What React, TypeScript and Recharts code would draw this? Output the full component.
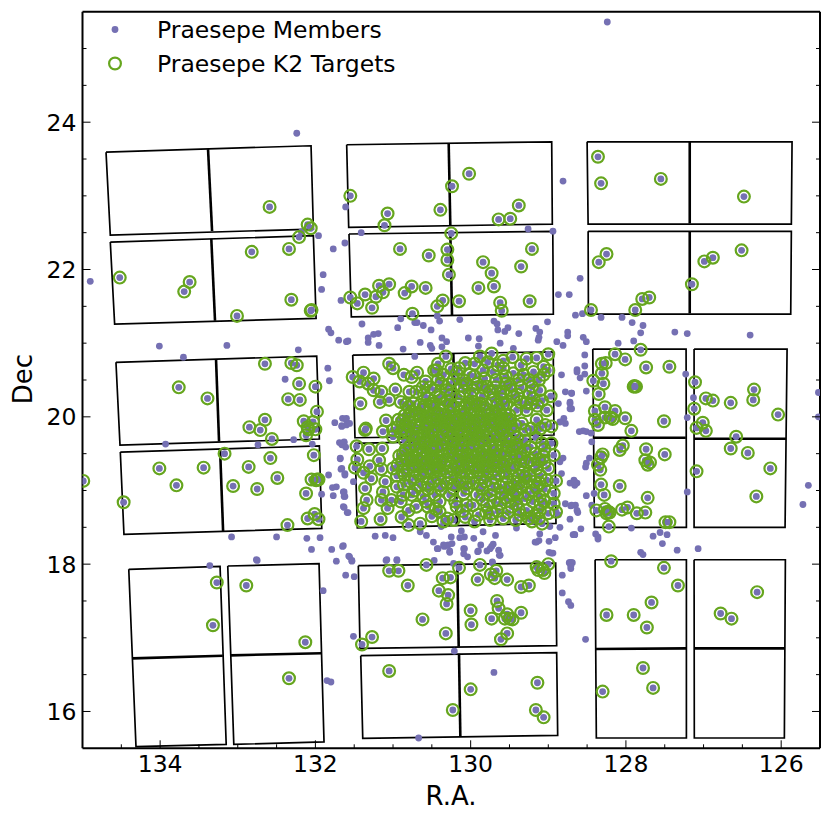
import { ScatterChart, Scatter, XAxis, YAxis, Legend } from 'recharts';

type Pair = [number, number];

const raMajor = [134, 132, 130, 128, 126];
const decMajor = [24, 22, 20, 18, 16];
const raTicks = [134.5, 134, 133.5, 133, 132.5, 132, 131.5, 131, 130.5, 130, 129.5, 129, 128.5, 128, 127.5, 127, 126.5, 126];
const decTicks = [25, 24.5, 24, 23.5, 23, 22.5, 22, 21.5, 21, 20.5, 20, 19.5, 19, 18.5, 18, 17.5, 17, 16.5, 16];

// K2 module outlines, four corners in R.A. / Dec
const fovOutlines: Pair[][] = [
  [[134.697, 23.594], [132.056, 23.68], [132.026, 22.549], [134.642, 22.468]],
  [[134.642, 22.373], [132.026, 22.459], [131.991, 21.337], [134.586, 21.259]],
  [[131.597, 23.694], [128.956, 23.734], [128.948, 22.617], [131.571, 22.573]],
  [[131.567, 22.482], [128.942, 22.519], [128.935, 21.395], [131.537, 21.358]],
  [[128.5, 23.734], [125.86, 23.734], [125.869, 22.617], [128.487, 22.617]],
  [[128.487, 22.519], [125.869, 22.519], [125.877, 21.395], [128.483, 21.395]],
  [[134.569, 20.74], [131.983, 20.825], [131.949, 19.699], [134.517, 19.617]],
  [[134.513, 19.522], [131.949, 19.604], [131.918, 18.486], [134.466, 18.405]],
  [[131.519, 20.839], [128.936, 20.883], [128.927, 19.753], [131.49, 19.716]],
  [[131.49, 19.64], [128.914, 19.7], [128.901, 18.554], [131.46, 18.494]],
  [[128.427, 20.92], [127.225, 20.92], [127.221, 18.499], [128.406, 18.499]],
  [[127.122, 20.92], [125.924, 20.92], [125.95, 18.499], [127.122, 18.499]],
  [[134.404, 17.93], [133.228, 17.97], [133.149, 15.554], [134.311, 15.522]],
  [[133.129, 17.975], [131.953, 18.006], [131.889, 15.586], [133.051, 15.554]],
  [[131.447, 17.98], [128.905, 18.015], [128.892, 16.893], [131.425, 16.857]],
  [[131.416, 16.757], [128.892, 16.798], [128.879, 15.676], [131.39, 15.636]],
  [[128.397, 18.06], [127.221, 18.06], [127.221, 15.64], [128.381, 15.64]],
  [[127.122, 18.06], [125.946, 18.06], [125.959, 15.64], [127.119, 15.64]],
];

// the line between the two CCDs of each module
const fovDividers: Pair[][] = [
  [[133.383, 23.635], [133.331, 22.522]],
  [[133.341, 22.418], [133.293, 21.305]],
  [[130.283, 23.712], [130.262, 22.6]],
  [[130.262, 22.505], [130.24, 21.381]],
  [[127.178, 23.734], [127.178, 22.626]],
  [[127.178, 22.519], [127.178, 21.404]],
  [[133.28, 20.78], [133.241, 19.667]],
  [[133.228, 19.567], [133.189, 18.449]],
  [[130.223, 20.861], [130.198, 19.73]],
  [[130.189, 19.65], [130.18, 18.53]],
  [[128.419, 19.716], [127.229, 19.716]],
  [[127.122, 19.703], [125.937, 19.703]],
  [[134.354, 16.721], [133.193, 16.757]],
  [[133.091, 16.762], [131.927, 16.79]],
  [[130.172, 18.002], [130.154, 16.879]],
  [[130.15, 16.784], [130.133, 15.663]],
  [[128.388, 16.848], [127.221, 16.857]],
  [[127.119, 16.857], [125.959, 16.857]],
];

const outerTargets: Pair[] = [
  [132.59, 22.85], [132.10, 22.61], [132.06, 22.56], [132.21, 22.44], [132.34, 22.28], [132.82, 22.24], [134.52, 21.89],
  [133.62, 21.83], [133.69, 21.70], [132.31, 21.59], [132.05, 21.45], [132.06, 21.44], [133.01, 21.37], [131.55, 23.00],
  [131.07, 22.76], [131.11, 22.60], [130.91, 22.28], [131.55, 21.62], [131.46, 21.54], [131.36, 21.66], [131.27, 21.48],
  [131.22, 21.63], [131.18, 21.78], [131.13, 21.69], [131.05, 21.80], [130.85, 21.68], [130.76, 21.77], [130.75, 21.40],
  [130.02, 23.30], [130.24, 23.13], [130.39, 22.81], [129.38, 22.87], [129.64, 22.68], [129.49, 22.69], [130.25, 22.49],
  [130.30, 22.27], [130.30, 22.13], [130.54, 22.19], [130.28, 21.93], [129.21, 22.28], [129.35, 22.04], [129.84, 22.10],
  [129.73, 21.95], [129.70, 21.77], [129.90, 21.75], [129.62, 21.55], [129.60, 21.44], [129.24, 21.57], [130.58, 21.75],
  [130.36, 21.58], [130.43, 21.50], [130.15, 21.57], [128.36, 23.53], [128.32, 23.17], [127.55, 23.23], [126.48, 22.99],
  [128.35, 22.10], [128.25, 22.21], [126.51, 22.26], [126.88, 22.16], [126.99, 22.11], [127.15, 21.80], [127.70, 21.62],
  [127.79, 21.60], [127.88, 21.45], [128.45, 21.45],
  [132.65, 20.72], [132.31, 20.73], [132.24, 20.70], [132.21, 20.45], [132.00, 20.41], [132.35, 20.24], [132.20, 20.23],
  [131.98, 20.07], [133.76, 20.40], [133.39, 20.25], [132.65, 19.96], [132.85, 19.86], [132.71, 19.82], [132.56, 19.70],
  [132.15, 19.94], [132.03, 19.93], [132.10, 19.86], [132.00, 19.83], [132.09, 19.83], [132.12, 19.75], [132.02, 19.48],
  [133.17, 19.50], [132.58, 19.44], [132.86, 19.32], [132.49, 19.17], [133.06, 19.06], [132.75, 19.02], [132.05, 19.15],
  [131.98, 19.15], [131.96, 19.15], [131.99, 19.14], [132.12, 18.96], [132.01, 18.68], [132.10, 18.62], [131.96, 18.61],
  [132.36, 18.53], [134.01, 19.30], [133.44, 19.31], [133.79, 19.07], [134.47, 18.84], [134.99, 19.13],
  [128.14, 20.85], [127.81, 20.91], [128.01, 20.78], [128.26, 20.73], [128.31, 20.72], [127.74, 20.67], [127.44, 20.68],
  [128.31, 20.59], [128.42, 20.49], [128.29, 20.45], [128.35, 20.31], [127.89, 20.42], [127.90, 20.41], [127.87, 20.41],
  [127.11, 20.47], [126.35, 20.37], [126.36, 20.23], [126.97, 20.25], [126.88, 20.22], [126.65, 20.19], [126.04, 20.03],
  [127.12, 20.11], [128.27, 20.13], [128.40, 20.08], [128.14, 20.08], [128.01, 19.98], [128.20, 19.99], [128.17, 19.97],
  [128.27, 19.99], [128.40, 19.96], [128.36, 19.89], [127.51, 19.94], [127.93, 19.81], [127.01, 19.92], [127.09, 19.85],
  [126.97, 19.81], [126.58, 19.73], [126.65, 19.57], [126.43, 19.51], [126.14, 19.30], [126.32, 18.92], [127.09, 19.26],
  [128.04, 19.61], [128.08, 19.55], [127.74, 19.56], [127.50, 19.49], [127.75, 19.41], [127.69, 19.38], [127.72, 19.35],
  [128.30, 19.49], [128.32, 19.45], [128.36, 19.35], [128.33, 19.28], [128.32, 19.08], [128.08, 19.06], [128.28, 18.94],
  [127.72, 18.90], [128.38, 18.73], [128.27, 18.75], [128.23, 18.71], [128.25, 18.69], [128.21, 18.70], [128.05, 18.74],
  [127.98, 18.77], [127.86, 18.69], [127.75, 18.70], [128.22, 18.51], [127.49, 18.57], [127.44, 18.57],
  [133.27, 17.75], [133.32, 17.17], [132.89, 17.71], [132.13, 16.94], [132.34, 16.45], [131.05, 17.91], [130.93, 17.91],
  [130.57, 17.99], [130.81, 17.71], [130.36, 17.81], [130.26, 17.82], [130.41, 17.64], [130.29, 17.58], [130.31, 17.46],
  [130.62, 17.25], [130.32, 17.06], [131.27, 17.01], [131.40, 16.91], [131.05, 16.55], [130.23, 16.02], [130.15, 17.95],
  [129.88, 17.99], [129.91, 17.79], [129.74, 17.86], [129.67, 17.91], [129.69, 17.81], [129.53, 17.79], [129.35, 17.69],
  [129.25, 17.71], [129.15, 17.96], [129.13, 17.92], [129.05, 17.88], [129.00, 18.00], [129.07, 17.92], [130.00, 17.37],
  [129.99, 17.18], [129.73, 17.26], [129.66, 17.50], [129.64, 17.40], [129.53, 17.32], [129.35, 17.34], [129.56, 17.26],
  [129.50, 17.26], [129.46, 17.25], [129.53, 17.06], [129.61, 16.98], [130.00, 16.30], [129.14, 16.39], [129.16, 16.02],
  [129.06, 15.92], [128.19, 18.04], [127.51, 17.95], [127.33, 17.71], [127.67, 17.48], [128.25, 17.31], [127.90, 17.31],
  [127.73, 17.14], [127.78, 16.59], [127.65, 16.32], [128.30, 16.27], [126.31, 17.62], [126.78, 17.33], [126.64, 17.26],
];

const clusterTargets: Pair[] = [
  [131.52, 20.54], [131.38, 20.60], [131.25, 20.52], [131.43, 20.48], [131.32, 20.45], [131.15, 20.34], [131.25, 20.36],
  [131.17, 20.20], [131.05, 20.23], [131.05, 20.72], [131.00, 20.66], [130.86, 20.57], [130.69, 20.60], [130.76, 20.54],
  [130.97, 20.37], [130.79, 20.34], [130.70, 20.34], [130.90, 20.20], [131.42, 20.18], [130.65, 20.16], [130.76, 20.07],
  [130.85, 20.02], [130.93, 19.96], [131.09, 19.95], [131.13, 19.80], [131.00, 19.82], [130.87, 19.84], [131.36, 19.82],
  [131.35, 19.84], [131.00, 19.73], [130.78, 19.93], [130.65, 19.96], [130.57, 20.00], [130.44, 20.63], [130.32, 20.82],
  [130.47, 20.63], [130.42, 20.50], [130.35, 20.57], [130.22, 20.50], [130.46, 20.36], [130.40, 20.27], [130.31, 20.36],
  [130.18, 20.59], [130.07, 20.73], [130.01, 20.57], [129.88, 20.82], [129.73, 20.86], [129.84, 20.63], [129.71, 20.61],
  [129.58, 20.66], [129.46, 20.81], [129.28, 20.79], [129.00, 20.85], [129.45, 20.59], [129.32, 20.57], [129.06, 20.68],
  [129.00, 20.63], [129.06, 20.57], [129.19, 20.61], [129.97, 20.36], [129.79, 20.41], [129.58, 20.34], [129.49, 20.43],
  [129.67, 20.50], [130.05, 20.45], [129.21, 20.41], [129.11, 20.36], [128.97, 20.28], [129.36, 20.20], [129.02, 20.09],
  [129.19, 20.25], [129.28, 20.09], [129.41, 20.09], [129.54, 20.18], [129.71, 20.23], [129.88, 20.18], [130.05, 20.18],
  [130.22, 20.14], [130.40, 20.09], [130.52, 20.14], [130.61, 20.00], [130.44, 19.96], [130.31, 19.98], [130.18, 19.96],
  [130.03, 19.98], [129.88, 20.00], [129.75, 19.96], [129.62, 19.98], [129.49, 19.96], [129.34, 19.91], [129.15, 19.96],
  [128.96, 19.87], [129.04, 19.89], [129.30, 19.82], [129.45, 19.80], [129.62, 19.82], [129.79, 19.84], [129.97, 19.82],
  [130.14, 19.84], [130.31, 19.80], [130.48, 19.82], [130.59, 19.83],
  [131.47, 19.60], [131.31, 19.56], [131.14, 19.57], [131.46, 19.42], [131.18, 19.41], [131.49, 19.31], [131.30, 19.33],
  [131.38, 19.24], [131.28, 19.16], [131.15, 19.29], [131.00, 19.30], [130.85, 19.21], [130.87, 19.50], [130.76, 19.48],
  [130.65, 19.59], [130.55, 19.50], [130.44, 19.59], [130.31, 19.64], [130.18, 19.55], [130.03, 19.59], [129.90, 19.50],
  [129.75, 19.59], [129.62, 19.48], [129.51, 19.59], [129.41, 19.62], [129.23, 19.59], [129.08, 19.64], [128.96, 19.64],
  [128.93, 19.48], [129.06, 19.46], [129.23, 19.41], [129.41, 19.46], [129.54, 19.39], [129.71, 19.41], [129.88, 19.39],
  [130.05, 19.37], [130.22, 19.44], [130.40, 19.39], [130.57, 19.37], [130.72, 19.34], [130.65, 19.23], [130.48, 19.25],
  [130.31, 19.25], [130.14, 19.25], [129.97, 19.25], [129.79, 19.25], [129.64, 19.23], [129.47, 19.30], [129.32, 19.25],
  [129.15, 19.30], [129.00, 19.30], [129.02, 19.14], [128.90, 19.13], [128.93, 18.96], [129.11, 19.10], [129.28, 19.12],
  [129.45, 19.12], [129.62, 19.05], [129.81, 19.12], [129.97, 19.10], [130.14, 19.12], [130.31, 19.10], [130.48, 19.12],
  [130.65, 19.07], [130.78, 19.12], [130.95, 19.05], [131.13, 18.98], [131.36, 19.03], [131.34, 18.87], [131.38, 18.76],
  [131.41, 18.58], [131.16, 18.61], [131.07, 18.76], [131.15, 18.87], [131.02, 18.87], [130.87, 18.94], [130.76, 18.94],
  [130.61, 18.92], [130.46, 18.94], [130.27, 18.94], [130.09, 18.96], [129.92, 18.94], [129.75, 18.94], [129.60, 18.96],
  [129.45, 18.94], [129.30, 18.89], [129.11, 18.92], [128.93, 18.82], [128.90, 18.71], [129.08, 18.55], [129.21, 18.58],
  [129.36, 18.67], [129.47, 18.78], [129.58, 18.62], [129.73, 18.69], [129.90, 18.67], [130.07, 18.64], [130.22, 18.60],
  [130.40, 18.71], [130.55, 18.78], [130.65, 18.55], [130.80, 18.53], [130.89, 18.64], [130.80, 18.73], [130.70, 18.78],
  [130.18, 18.78], [129.97, 18.80], [129.79, 18.80], [129.62, 18.82], [129.28, 18.73], [129.11, 18.73], [129.00, 18.69],
  [129.41, 18.82],
  [130.80, 20.13], [130.70, 20.05], [130.62, 20.10], [130.47, 20.04], [130.37, 20.03], [130.28, 20.07], [130.13, 20.07],
  [130.08, 20.12], [129.95, 20.10], [129.83, 20.09], [129.72, 20.07], [129.63, 20.09], [129.55, 20.03], [130.84, 19.90],
  [130.72, 19.88], [130.53, 19.91], [130.38, 19.88], [130.24, 19.89], [130.10, 19.91], [129.95, 19.92], [129.82, 19.90],
  [129.68, 19.90], [129.55, 19.88], [130.76, 19.75], [130.66, 19.70], [130.54, 19.74], [130.42, 19.72], [130.27, 19.72],
  [130.16, 19.74], [130.04, 19.73], [129.92, 19.74], [129.80, 19.72], [129.70, 19.74], [129.55, 19.72], [129.40, 19.72],
  [130.78, 19.60], [130.82, 19.42], [130.70, 19.44], [130.60, 19.44], [130.50, 19.43], [130.35, 19.47], [130.27, 19.52],
  [130.10, 19.48], [129.97, 19.45], [129.84, 19.46], [129.75, 19.46], [129.66, 19.34], [129.56, 19.50], [130.80, 19.30],
  [130.66, 19.32], [130.54, 19.30], [130.42, 19.31], [130.25, 19.33], [130.16, 19.33], [130.03, 19.31], [129.90, 19.32],
  [129.78, 19.33], [129.36, 19.50], [129.28, 19.38], [129.38, 19.20], [129.24, 19.20], [129.10, 19.20], [129.05, 19.38],
  [129.35, 19.05], [129.20, 19.00], [129.50, 19.02], [129.55, 18.90], [130.72, 19.00], [130.55, 19.02], [130.38, 19.02],
  [130.22, 19.03], [130.05, 19.03], [129.85, 19.02], [129.70, 19.02], [130.55, 20.25], [130.47, 20.18], [130.30, 20.22],
  [130.15, 20.27], [130.00, 20.28], [129.85, 20.28], [129.75, 20.34], [129.60, 20.24], [129.45, 20.27], [129.28, 20.19],
  [130.12, 20.42], [129.92, 20.45], [129.68, 20.40],
];

// the solid green core, where single rings can only be estimated
const coreTargets: Pair[] = [
  [130.83, 20.17], [130.74, 20.18], [130.58, 20.16], [130.49, 20.17], [130.34, 20.18], [130.26, 20.16], [130.16, 20.17],
  [129.99, 20.18], [129.93, 20.16], [129.80, 20.17], [129.66, 20.16], [129.58, 20.17],
  [130.79, 20.02], [130.66, 20.03], [130.53, 20.01], [130.42, 20.02], [130.33, 20.03], [130.21, 20.01], [130.10, 20.02],
  [130.01, 20.03], [129.92, 20.01], [129.78, 20.02], [129.68, 20.03], [129.60, 20.01], [129.50, 20.02],
  [130.88, 19.94], [130.58, 19.93], [130.48, 19.95], [130.34, 19.94], [130.27, 19.93], [130.14, 19.95], [130.06, 19.94],
  [129.90, 19.93], [129.84, 19.95], [129.71, 19.94], [129.59, 19.93], [129.52, 19.95],
  [130.94, 19.86], [130.80, 19.87], [130.67, 19.85], [130.56, 19.86], [130.44, 19.87], [130.33, 19.85], [130.20, 19.86],
  [130.07, 19.87], [130.00, 19.85], [129.88, 19.86], [129.75, 19.87], [129.58, 19.85], [129.48, 19.86],
  [130.90, 19.78], [130.82, 19.79], [130.70, 19.77], [130.60, 19.78], [130.50, 19.79], [130.36, 19.77], [130.23, 19.78],
  [130.12, 19.79], [130.01, 19.77], [129.93, 19.78], [129.84, 19.79], [129.66, 19.77], [129.58, 19.78],
  [130.85, 19.68], [130.73, 19.69], [130.60, 19.67], [130.47, 19.68], [130.36, 19.69], [130.21, 19.67], [130.09, 19.68],
  [129.98, 19.69], [129.86, 19.67], [129.75, 19.68], [129.63, 19.69], [129.50, 19.67],
  [130.72, 19.62], [130.58, 19.63], [130.50, 19.61], [130.38, 19.62], [130.24, 19.63], [130.12, 19.61], [129.96, 19.62],
  [129.82, 19.63], [129.68, 19.61], [129.58, 19.62],
  [130.84, 19.55], [130.70, 19.56], [130.61, 19.54], [130.49, 19.55], [130.37, 19.56], [130.24, 19.54], [130.10, 19.55],
  [129.97, 19.56], [129.84, 19.54], [129.67, 19.55], [129.46, 19.56],
  [130.92, 19.47], [130.66, 19.48], [130.43, 19.46], [130.15, 19.47], [130.04, 19.48], [129.93, 19.46], [129.80, 19.47],
  [129.68, 19.48], [129.48, 19.46],
  [130.88, 19.40], [130.76, 19.41], [130.64, 19.39], [130.51, 19.40], [130.32, 19.41], [130.17, 19.39], [129.99, 19.40],
  [129.78, 19.41], [129.63, 19.39],
  [130.94, 19.35], [130.60, 19.36], [130.46, 19.34], [130.34, 19.35], [130.10, 19.36], [129.95, 19.34], [129.84, 19.35],
  [129.71, 19.36], [129.58, 19.34],
  [130.88, 19.27], [130.73, 19.28], [130.58, 19.26], [130.40, 19.27], [130.22, 19.28], [130.08, 19.26], [129.90, 19.27],
  [129.70, 19.28], [129.56, 19.26],
  [130.72, 19.18], [130.60, 19.19], [130.42, 19.17], [130.25, 19.18], [130.05, 19.19], [129.88, 19.17], [129.70, 19.18],
  [129.54, 19.19],
  [130.86, 19.08], [130.55, 19.09], [130.40, 19.07], [130.22, 19.08], [130.06, 19.09], [129.88, 19.07], [129.72, 19.08],
  [129.54, 19.09],
  [129.42, 19.88], [129.22, 19.84], [129.10, 19.84], [129.40, 19.58], [129.30, 19.55], [129.17, 19.50], [129.45, 19.35],
  [129.36, 19.35], [129.12, 19.42], [129.38, 19.10], [129.15, 19.04], [129.05, 19.02],
  [130.60, 20.30], [130.52, 20.40], [130.38, 20.45], [130.25, 20.30], [130.08, 20.35], [129.95, 20.20], [129.85, 20.40],
  [129.55, 20.45], [129.35, 20.40], [129.40, 20.30], [129.24, 20.32], [129.14, 20.15], [130.25, 20.65], [130.10, 20.50],
  [129.95, 20.55], [129.65, 20.70], [129.55, 20.55], [129.35, 20.70], [129.15, 20.80],
  [130.58, 18.85], [130.40, 18.85], [130.20, 18.85], [130.05, 18.80], [129.85, 18.88], [129.70, 18.85], [129.52, 18.70],
  [130.50, 18.65], [130.30, 18.62], [129.95, 18.58], [129.75, 18.60], [129.42, 18.60], [129.25, 18.62], [129.12, 18.62],
  [129.20, 18.85], [129.05, 18.85], [130.95, 19.20], [130.90, 18.85], [131.10, 19.12], [130.35, 18.58],
  [129.30, 19.68], [129.16, 19.72], [129.05, 19.56], [129.35, 19.44], [129.18, 19.36], [129.30, 19.18], [129.18, 19.12],
  [129.42, 19.00], [129.26, 18.95], [129.10, 18.82], [129.38, 18.74], [129.18, 18.66], [129.52, 18.86], [129.40, 18.95],
  [130.42, 20.72], [130.15, 20.66], [129.95, 20.72], [129.78, 20.74], [129.58, 20.76], [129.38, 20.50], [129.25, 20.50],
  [130.28, 20.44], [129.82, 20.52], [129.62, 20.32], [129.48, 20.36], [129.12, 20.50], [129.22, 20.18], [129.08, 20.22],
  [130.58, 20.48], [130.62, 20.40], [130.45, 18.75], [130.10, 18.72], [129.80, 18.70], [129.65, 18.72],
];

// members with no K2 target ring
const otherMembers: Pair[] = [
  [132.24, 23.85], [134.90, 21.84], [131.61, 22.85], [131.41, 22.50], [131.62, 22.36], [131.77, 22.28], [131.96, 22.46],
  [132.18, 22.51], [131.90, 21.93], [131.92, 21.73], [131.67, 21.58], [131.40, 21.26], [131.83, 21.19], [131.80, 21.14],
  [131.70, 21.04], [131.58, 21.03], [131.32, 21.07], [131.25, 21.12], [131.19, 21.13], [130.94, 21.21], [130.90, 21.33],
  [130.72, 21.28], [128.24, 25.36], [128.81, 23.20], [129.26, 22.55], [128.94, 22.52], [128.59, 21.88], [128.87, 21.66],
  [128.73, 21.66], [128.65, 21.38], [128.56, 21.40], [128.32, 21.35], [128.05, 21.35], [127.92, 21.28], [127.78, 21.24],
  [127.81, 21.14], [127.37, 21.15], [127.21, 21.13], [126.40, 21.11], [129.01, 21.29], [129.16, 21.20], [129.11, 21.15],
  [129.12, 21.08], [128.75, 21.15], [128.75, 21.10], [128.55, 21.08], [129.38, 21.13], [129.52, 21.21], [129.56, 21.16],
  [129.65, 21.18], [129.70, 21.30], [129.66, 21.26], [130.14, 21.32], [130.40, 21.30], [130.43, 21.37], [130.61, 21.24],
  [130.51, 21.18], [130.69, 21.28], [130.37, 21.07], [130.03, 21.07], [129.89, 21.06],
  [134.01, 20.96], [133.14, 20.97], [133.70, 20.81], [132.22, 20.91], [131.84, 20.66], [131.82, 20.49], [132.39, 20.51],
  [131.75, 19.92], [131.66, 19.88], [131.61, 19.97], [131.60, 19.89], [133.93, 19.63], [132.74, 19.62], [132.28, 19.69],
  [132.04, 19.63], [131.69, 19.65], [131.63, 19.65], [131.66, 19.62], [131.68, 19.43], [131.67, 19.29], [131.62, 19.21],
  [131.83, 19.21], [131.78, 19.04], [131.73, 19.05], [131.77, 18.93], [131.92, 18.95], [131.63, 18.98], [131.63, 18.92],
  [131.63, 18.77], [131.59, 18.70], [133.08, 18.37], [132.50, 18.37], [132.11, 18.35], [131.94, 18.36], [132.05, 18.20],
  [131.79, 18.20], [131.65, 18.24], [132.76, 18.06],
  [128.51, 21.02], [128.10, 21.00], [127.90, 21.03], [128.53, 20.84], [128.53, 20.69], [128.63, 20.64], [128.53, 20.58],
  [128.59, 20.53], [128.51, 20.35], [128.70, 20.32], [127.23, 20.58], [127.13, 20.26], [127.21, 19.99], [128.72, 20.18],
  [128.72, 20.11], [128.60, 19.80], [128.55, 19.81], [128.51, 19.80], [128.45, 19.78], [128.44, 19.66], [128.47, 19.44],
  [128.51, 19.37], [128.52, 19.32], [128.67, 19.14], [128.63, 19.10], [128.66, 19.07], [128.51, 18.93], [128.41, 18.96],
  [128.44, 18.80], [128.65, 18.80], [128.71, 18.79], [128.62, 18.70], [128.72, 18.61], [128.58, 18.48], [128.66, 18.40],
  [128.39, 18.41], [128.36, 18.37], [128.36, 18.34], [127.93, 18.49], [127.65, 18.38], [127.56, 18.43], [127.47, 18.40],
  [127.53, 18.28], [127.81, 18.16], [127.78, 18.13], [127.34, 18.19], [127.07, 18.21], [127.21, 18.98], [125.65, 19.07],
  [125.72, 18.81], [125.52, 20.33], [125.52, 20.00],
  [133.36, 17.98], [132.75, 18.05], [131.73, 18.04], [131.57, 18.11], [131.53, 18.04], [131.90, 17.64], [131.61, 17.85],
  [131.50, 17.83], [131.09, 18.05], [130.95, 18.05], [130.47, 18.05], [131.51, 17.02], [131.85, 16.42], [131.80, 16.40],
  [130.67, 15.64], [130.21, 16.82], [130.22, 18.01], [129.70, 16.53], [128.52, 16.98], [128.82, 17.61], [128.74, 17.49],
  [128.71, 17.44], [128.82, 17.85], [128.71, 17.94], [128.73, 18.02], [128.69, 18.02], [129.72, 18.02],
  [130.43, 18.21], [130.34, 18.24], [130.29, 18.26], [130.24, 18.28], [130.27, 18.18], [128.96, 18.15], [128.99, 18.16],
  [129.64, 18.19], [129.62, 18.12], [129.71, 18.27], [129.73, 18.24], [129.79, 18.18], [129.87, 18.26], [129.91, 18.17],
  [130.09, 18.14], [130.04, 18.10], [130.09, 18.21], [130.27, 18.16], [129.15, 18.30], [128.99, 18.31],
  [131.60, 21.02], [131.32, 21.01], [131.18, 20.97], [130.87, 20.92], [130.65, 21.01], [130.52, 20.97], [130.50, 20.93],
  [130.37, 20.95], [130.31, 21.02], [129.90, 20.96], [129.62, 21.00], [129.45, 20.93], [129.13, 21.04], [128.89, 21.02],
  [128.81, 20.97], [130.72, 20.82], [131.65, 19.98], [131.60, 19.98], [131.56, 19.91], [131.66, 19.87], [131.63, 19.66],
  [131.61, 19.59], [131.68, 19.44], [131.66, 19.30], [131.62, 19.23], [131.51, 19.12], [131.64, 18.98], [131.62, 18.92],
  [131.64, 18.78], [131.58, 18.70], [131.23, 18.38], [131.10, 18.39], [131.00, 18.36], [130.65, 18.44], [130.57, 18.39],
  [130.12, 18.45], [129.84, 18.44], [129.68, 18.39], [129.41, 18.49], [128.98, 18.51], [128.68, 18.40], [128.63, 18.73],
  [128.70, 18.80], [128.78, 18.82], [128.87, 18.67], [128.72, 19.10], [128.66, 19.12], [128.83, 19.23], [128.85, 19.39],
  [128.81, 19.44], [128.78, 19.91], [128.80, 19.98], [128.85, 19.93], [128.70, 20.11], [128.72, 20.20], [128.87, 20.18],
  [128.70, 20.32], [128.78, 20.34], [128.83, 20.57], [128.63, 20.61], [131.64, 18.25], [131.56, 18.10], [131.53, 18.05],
  [131.08, 18.06], [130.95, 18.06], [130.48, 18.30], [130.38, 18.51], [130.25, 18.37], [130.14, 18.36], [130.08, 18.37],
  [129.96, 18.35], [130.42, 18.21], [130.35, 18.26], [130.08, 18.21], [129.90, 18.18], [129.75, 18.21], [129.63, 18.12],
  [129.72, 18.03], [129.17, 18.30], [129.12, 18.32], [129.11, 18.41], [128.91, 18.36], [128.85, 18.50], [128.94, 18.15],
  [128.66, 18.40], [128.72, 18.02], [128.70, 18.02], [128.71, 17.97],
];

const toPoints = (pairs: Pair[]) => pairs.map(([ra, dec]) => ({ ra, dec }));

const targets = [...outerTargets, ...clusterTargets, ...coreTargets];
const memberData = toPoints([...otherMembers, ...targets]);
const targetData = toPoints(targets);

const PURPLE = '#7570b3';
const GREEN = '#66a61e';
const FONT = '"DejaVu Sans", sans-serif';

const MemberDot = (p: any) => <circle cx={p.cx} cy={p.cy} r={3.4} fill={PURPLE} />;
const TargetRing = (p: any) => <circle cx={p.cx} cy={p.cy} r={5.9} fill="none" stroke={GREEN} strokeWidth={2.2} />;
const NoDot = () => <g />;

const BottomTick = (p: any) => {
  const major = raMajor.includes(p.payload.value);
  return (
    <g>
      <line x1={p.x} x2={p.x} y1={p.y} y2={p.y - (major ? 8 : 4)} stroke="#000" strokeWidth={1} />
      {major && (
        <text x={p.x} y={p.y + 23.5} textAnchor="middle" fontSize={23.5} fontFamily={FONT} fill="#000">
          {p.payload.value}
        </text>
      )}
    </g>
  );
};

const TopTick = (p: any) => (
  <line x1={p.x} x2={p.x} y1={p.y} y2={p.y + (raMajor.includes(p.payload.value) ? 8 : 4)} stroke="#000" strokeWidth={1} />
);

const LeftTick = (p: any) => {
  const major = decMajor.includes(p.payload.value);
  return (
    <g>
      <line x1={p.x} x2={p.x + (major ? 8 : 4)} y1={p.y} y2={p.y} stroke="#000" strokeWidth={1} />
      {major && (
        <text x={p.x - 6} y={p.y + 8.5} textAnchor="end" fontSize={23.5} fontFamily={FONT} fill="#000">
          {p.payload.value}
        </text>
      )}
    </g>
  );
};

const RightTick = (p: any) => (
  <line x1={p.x} x2={p.x - (decMajor.includes(p.payload.value) ? 8 : 4)} y1={p.y} y2={p.y} stroke="#000" strokeWidth={1} />
);

const LegendBox = () => (
  <svg width={320} height={70} style={{ display: 'block' }}>
    <circle cx={15} cy={17.5} r={3.4} fill={PURPLE} />
    <circle cx={15} cy={51.5} r={5.9} fill="none" stroke={GREEN} strokeWidth={2.2} />
    <text x={57} y={25.5} fontSize={23.5} fontFamily={FONT} fill="#000">Praesepe Members</text>
    <text x={57} y={59.5} fontSize={23.5} fontFamily={FONT} fill="#000">Praesepe K2 Targets</text>
  </svg>
);

const RaLabel = () => (
  <text x={451} y={805} textAnchor="middle" fontSize={26} fontFamily={FONT} fill="#000">R.A.</text>
);

const DecLabel = () => (
  <text transform="translate(32,379) rotate(-90)" textAnchor="middle" fontSize={26} fontFamily={FONT} fill="#000">Dec</text>
);

export default function App() {
  return (
    <div style={{ position: 'absolute', left: 0, top: 0, width: 830, height: 824, background: '#fff' }}>
      <ScatterChart width={830} height={824} margin={{ top: 10.7, right: 9, bottom: 0, left: 0 }}>
        <XAxis
          xAxisId="bottom"
          dataKey="ra"
          type="number"
          domain={[125.5, 135]}
          reversed
          allowDataOverflow
          ticks={raTicks}
          interval={0}
          height={75.7}
          tickSize={0}
          tickMargin={0}
          tickLine={false}
          tick={BottomTick}
          axisLine={{ stroke: '#000', strokeWidth: 2 }}
          label={{ content: RaLabel }}
        />
        <XAxis
          xAxisId="top"
          orientation="top"
          type="number"
          domain={[125.5, 135]}
          reversed
          allowDataOverflow
          ticks={raTicks}
          interval={0}
          height={1}
          tickSize={0}
          tickMargin={0}
          tickLine={false}
          tick={TopTick}
          axisLine={{ stroke: '#000', strokeWidth: 2 }}
        />
        <YAxis
          yAxisId="left"
          dataKey="dec"
          type="number"
          domain={[15.5, 25.5]}
          allowDataOverflow
          ticks={decTicks}
          interval={0}
          width={82.5}
          tickSize={0}
          tickMargin={0}
          tickLine={false}
          tick={LeftTick}
          axisLine={{ stroke: '#000', strokeWidth: 2 }}
          label={{ content: DecLabel }}
        />
        <YAxis
          yAxisId="right"
          orientation="right"
          type="number"
          domain={[15.5, 25.5]}
          allowDataOverflow
          ticks={decTicks}
          interval={0}
          width={1}
          tickSize={0}
          tickMargin={0}
          tickLine={false}
          tick={RightTick}
          axisLine={{ stroke: '#000', strokeWidth: 2 }}
        />
        <Legend
          layout="vertical"
          align="center"
          verticalAlign="middle"
          content={LegendBox}
          wrapperStyle={{ left: 100, top: 12, width: 320, height: 70 }}
        />
        {fovOutlines.map((corners, i) => (
          <Scatter
            key={`outline-${i}`}
            xAxisId="bottom"
            yAxisId="left"
            data={toPoints([...corners, corners[0]])}
            line={{ stroke: '#000', strokeWidth: 1.7 }}
            shape={NoDot}
            legendType="none"
            isAnimationActive={false}
          />
        ))}
        {fovDividers.map((ends, i) => (
          <Scatter
            key={`divider-${i}`}
            xAxisId="bottom"
            yAxisId="left"
            data={toPoints(ends)}
            line={{ stroke: '#000', strokeWidth: 2.6 }}
            shape={NoDot}
            legendType="none"
            isAnimationActive={false}
          />
        ))}
        <Scatter name="Praesepe Members" xAxisId="bottom" yAxisId="left" data={memberData} shape={MemberDot} isAnimationActive={false} />
        <Scatter name="Praesepe K2 Targets" xAxisId="bottom" yAxisId="left" data={targetData} shape={TargetRing} isAnimationActive={false} />
      </ScatterChart>
    </div>
  );
}
